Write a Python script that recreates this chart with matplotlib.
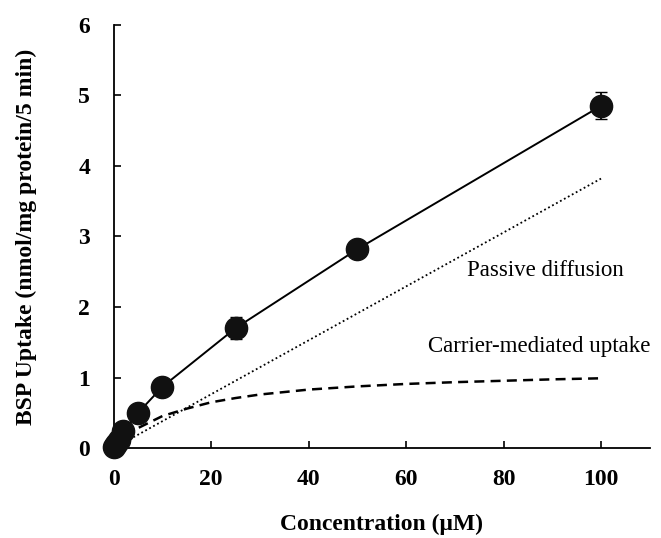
import matplotlib
matplotlib.use('Agg')
import matplotlib.pyplot as plt

# measured uptake
conc = [0.1, 0.5, 1, 2, 5, 10, 25, 50, 100]
uptake = [0.02, 0.06, 0.12, 0.24, 0.50, 0.87, 1.70, 2.82, 4.85]
uptake_err = [0.0, 0.0, 0.0, 0.03, 0.04, 0.06, 0.16, 0.09, 0.19]

# passive diffusion component (dotted)
passive_x = [0, 100]
passive_y = [0.0, 3.82]

# carrier-mediated component (dashed)
carrier_x = [0, 2, 5, 10, 15, 20, 25, 30, 40, 50, 60, 70, 80, 90, 100]
carrier_y = [0.0, 0.135, 0.285, 0.455, 0.56, 0.65, 0.71, 0.76, 0.83, 0.875,
             0.91, 0.935, 0.955, 0.975, 0.99]

x_ticks = [0, 20, 40, 60, 80, 100]
y_ticks = [0, 1, 2, 3, 4, 5, 6]

plt.rcParams['font.family'] = 'Liberation Serif'

fig = plt.figure(figsize=(6.61, 5.38), dpi=100)
ax = fig.add_axes([0.172, 0.167, 0.811, 0.787])

ax.plot(passive_x, passive_y, linestyle=(0, (1, 1.5)), color='black', linewidth=1.3)
ax.plot(carrier_x, carrier_y, linestyle=(0, (4, 2.5)), color='black', linewidth=1.8)
ax.errorbar(conc, uptake, yerr=uptake_err, fmt='o-', color='black',
            markerfacecolor='#111111', markeredgecolor='#111111',
            markersize=16, linewidth=1.4, elinewidth=1.3, capsize=4,
            clip_on=False, zorder=5)

ax.text(72.5, 2.52, 'Passive diffusion', fontsize=16.5, va='center', ha='left')
ax.text(64.5, 1.44, 'Carrier-mediated uptake', fontsize=16.5, va='center', ha='left')

ax.set_xlim(0, 110)
ax.set_ylim(0, 6)
ax.set_xticks(x_ticks)
ax.set_yticks(y_ticks)
ax.tick_params(direction='in', length=5, width=1.2, labelsize=17)
ax.tick_params(axis='x', pad=15)
ax.tick_params(axis='y', pad=17)
for lab in ax.get_xticklabels() + ax.get_yticklabels():
    lab.set_fontweight('bold')

ax.spines['top'].set_visible(False)
ax.spines['right'].set_visible(False)
ax.spines['left'].set_linewidth(1.3)
ax.spines['bottom'].set_linewidth(1.3)

ax.set_xlabel('Concentration (μM)', fontsize=17, fontweight='bold', va='center')
ax.set_ylabel('BSP Uptake (nmol/mg protein/5 min)', fontsize=17, fontweight='bold', va='center')
ax.xaxis.set_label_coords(0.5, -0.18)
ax.yaxis.set_label_coords(-0.162, 0.5)

fig.savefig('out.png', dpi=100)
